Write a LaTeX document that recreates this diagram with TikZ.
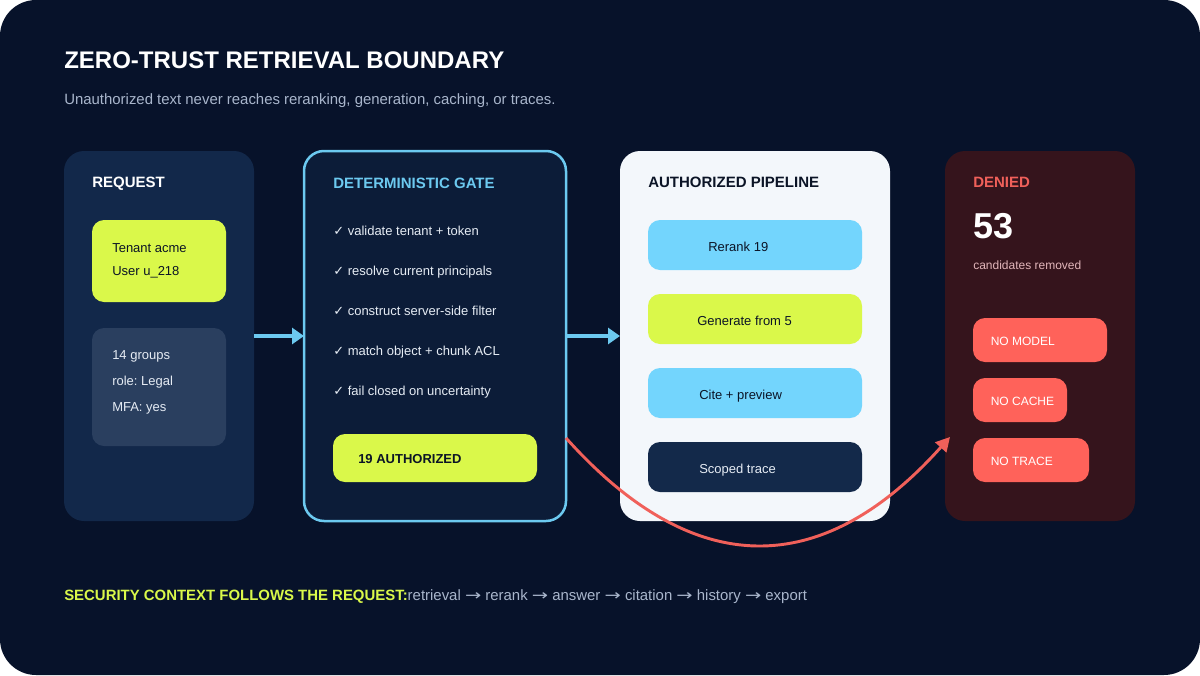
\documentclass[tikz,border=0pt]{standalone}
\usepackage{fontspec}
\setmainfont{Liberation Sans}
\newfontfamily\symfont{DejaVu Sans}
\usetikzlibrary{positioning,calc,arrows.meta}
\frenchspacing
\newdimen\px \px=0.75pt
\definecolor{pagebg}{HTML}{07122A}
\definecolor{reqbg}{HTML}{12284A}
\definecolor{ctxbg}{HTML}{2A3F5F}
\definecolor{gatebg}{HTML}{0C1C38}
\definecolor{gateline}{HTML}{6CC9F0}
\definecolor{pipebg}{HTML}{F3F7FB}
\definecolor{denybg}{HTML}{35141C}
\definecolor{lime}{HTML}{DAF84A}
\definecolor{sky}{HTML}{73D5FD}
\definecolor{navy}{HTML}{13294A}
\definecolor{coral}{HTML}{FF625A}
\definecolor{denyred}{HTML}{F0605A}
\definecolor{muted}{HTML}{A9B6CC}
\definecolor{soft}{HTML}{E6ECF4}
\definecolor{ink}{HTML}{0B1426}
\definecolor{pinkish}{HTML}{E2B6BA}
\newcommand{\flowto}{\scalebox{1.3}[1]{\symfont →}}
\begin{document}
\begin{tikzpicture}[
  x=0.75pt, y=-0.75pt,
  panel/.style={anchor=north west, inner sep=0pt, outer sep=0pt,
                rounded corners=20\px, minimum height=370\px},
  chip/.style={anchor=north west, inner sep=0pt, outer sep=0pt,
               rounded corners=12\px},
  hd/.style={anchor=west, inner sep=0pt, text height=8pt, text depth=0pt,
             font=\fontsize{11.25}{13}\selectfont\bfseries},
  lbl/.style={anchor=west, inner sep=0pt, text height=7pt, text depth=0pt,
              font=\fontsize{9.75}{12}\selectfont},
  flow/.style={-{Triangle[length=9pt, width=12pt]}, line width=2.8pt, gateline},
  deny/.style={-{Triangle[length=10.5pt, width=11pt]}, line width=2.2pt, denyred}
]
  %% --- Canvas ---
  \fill[white] (0,0) rectangle (1200,675);
  \fill[pagebg, rounded corners=36\px] (0,0) rectangle (1200,675);
  %% --- Heading ---
  \node[anchor=west, inner sep=0pt, text height=12.9pt, text depth=0pt, white,
        font=\fontsize{18}{21}\selectfont\bfseries] (title) at (64,60)
        {ZERO-TRUST RETRIEVAL BOUNDARY};
  \node[anchor=west, inner sep=0pt, text height=8pt, text depth=0pt, muted,
        font=\fontsize{11.2}{13}\selectfont] (sub) at (64,99.5)
        {Unauthorized text never reaches reranking, generation, caching, or traces.};
  %% --- Panels ---
  \node[panel, fill=reqbg, minimum width=190\px] (req) at (64,151) {};
  \node[panel, fill=gatebg, draw=gateline, line width=2.5\px,
        minimum width=262\px] (gate) at (304,151) {};
  \node[panel, fill=pipebg, minimum width=270\px] (pipe) at (620,151) {};
  \node[panel, fill=denybg, minimum width=190\px] (deny) at (945,151) {};
  %% --- Request ---
  \node[hd, white] at ($(req.north west)+(28,31.5)$) {REQUEST};
  \node[chip, fill=lime, minimum width=134\px, minimum height=82\px] (who) at (92,220) {};
  \node[lbl, ink] at ($(who.north west)+(20,27.5)$) {Tenant acme};
  \node[lbl, ink] at ($(who.north west)+(20,51)$) {User u\_218};
  \node[chip, fill=ctxbg, minimum width=134\px, minimum height=118\px] (ctx) at (92,328) {};
  \foreach \t [count=\i] in {14 groups, role: Legal, MFA: yes}
    \node[lbl, soft] at ($(ctx.north west)+(20,1+26*\i)$) {\t};
  %% --- Gate ---
  \node[hd, gateline] at ($(gate.north west)+(29,32)$) {DETERMINISTIC GATE};
  \foreach \t [count=\i] in {validate tenant + token, resolve current principals,
      construct server-side filter, match object + chunk ACL, fail closed on uncertainty}
    \node[lbl, soft] at ($(gate.north west)+(29,39.5+40*\i)$) {{\symfont ✓} \t};
  \node[chip, fill=lime, minimum width=204\px, minimum height=48\px] (auth) at (333,434) {};
  \node[lbl, ink, font=\fontsize{9.75}{12}\selectfont\bfseries]
    at ($(auth.west)+(25,1)$) {19 AUTHORIZED};
  %% --- Pipeline ---
  \node[hd, ink] at ($(pipe.north west)+(28,31.5)$) {AUTHORIZED PIPELINE};
  \node[chip, fill=sky, minimum width=214\px, minimum height=50\px] (rerank) at (648,220) {};
  \node[chip, fill=lime, minimum width=214\px, minimum height=50\px] (gen) at (648,294) {};
  \node[chip, fill=sky, minimum width=214\px, minimum height=50\px] (cite) at (648,368) {};
  \node[chip, fill=navy, minimum width=214\px, minimum height=50\px] (trace) at (648,442) {};
  \node[lbl, ink] at ($(rerank.west)+(60,1.5)$) {Rerank 19};
  \node[lbl, ink] at ($(gen.west)+(49,1.5)$) {Generate from 5};
  \node[lbl, ink] at ($(cite.west)+(51,1.5)$) {Cite + preview};
  \node[lbl, soft] at ($(trace.west)+(51,1.5)$) {Scoped trace};
  %% --- Denied ---
  \node[hd, denyred] at ($(deny.north west)+(28,31.5)$) {DENIED};
  \node[anchor=west, inner sep=0pt, text height=19.3pt, text depth=0pt, white,
        font=\fontsize{27}{30}\selectfont\bfseries] (count) at ($(deny.north west)+(28,74.5)$) {53};
  \node[lbl, pinkish, font=\fontsize{9}{11}\selectfont] at ($(deny.north west)+(28,114)$)
    {candidates removed};
  \node[chip, fill=coral, minimum width=134\px, minimum height=44\px] (nomodel) at (973,318) {};
  \node[chip, fill=coral, minimum width=94\px, minimum height=44\px] (nocache) at (973,378) {};
  \node[chip, fill=coral, minimum width=116\px, minimum height=44\px] (notrace) at (973,438) {};
  \node[lbl, white, font=\fontsize{9}{11}\selectfont] at ($(nomodel.west)+(17.5,0.5)$) {NO MODEL};
  \node[lbl, white, font=\fontsize{9}{11}\selectfont] at ($(nocache.west)+(17.5,0.5)$) {NO CACHE};
  \node[lbl, white, font=\fontsize{9}{11}\selectfont] at ($(notrace.west)+(17.5,0.5)$) {NO TRACE};
  %% --- Footer ---
  \node[anchor=west, inner sep=0pt, text height=8pt, text depth=0pt,
        font=\fontsize{11.2}{13}\selectfont] (foot) at (64,595)
    {\textcolor{lime}{\bfseries SECURITY CONTEXT FOLLOWS THE REQUEST:}\textcolor{muted}{retrieval \flowto{} rerank \flowto{} answer \flowto{} citation \flowto{} history \flowto{} export}};
  %% --- Connectors ---
  \draw[flow] (req.east) -- (gate.west);
  \draw[flow] (gate.east) -- (pipe.west);
  \draw[deny] ($(gate.east)+(0,102)$) .. controls ($(gate.east)+(128,245)$)
    and ($(deny.west)+(-123,244)$) .. ($(deny.west)+(5,101)$);
\end{tikzpicture}
\end{document}
